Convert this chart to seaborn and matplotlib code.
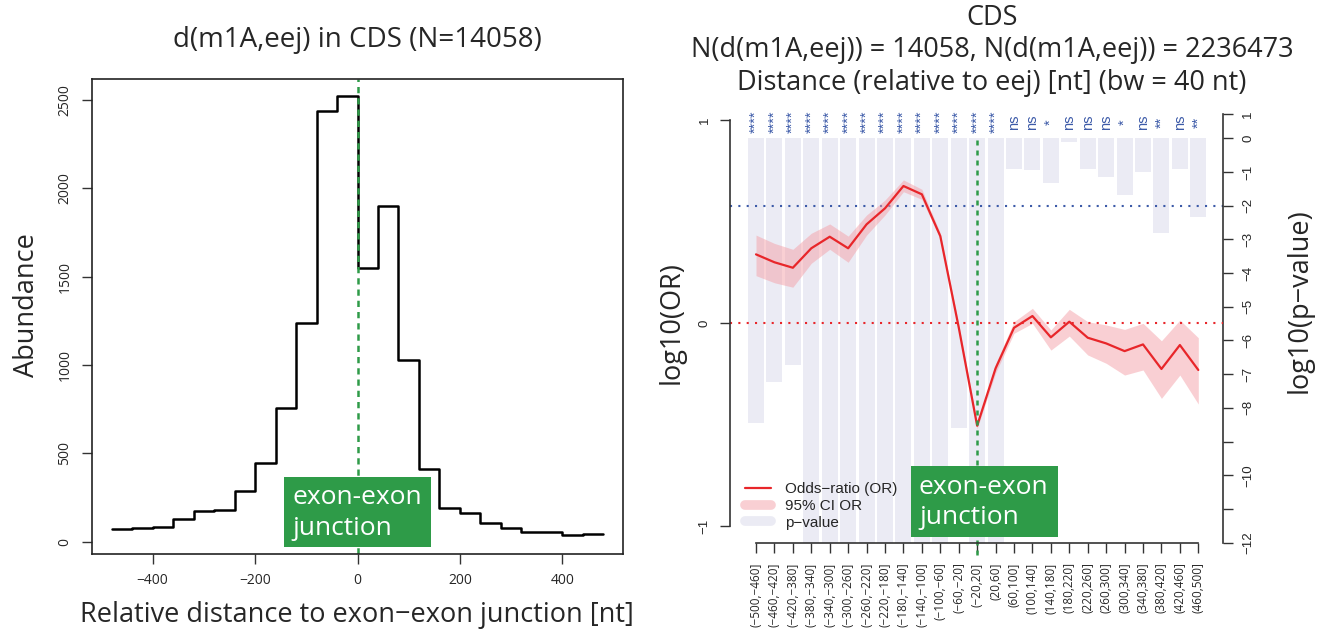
import numpy as np
import pandas as pd
import matplotlib
matplotlib.use("Agg")
import matplotlib.pyplot as plt
from matplotlib.lines import Line2D
from matplotlib.patches import Rectangle
import seaborn as sns

# left panel: m1A distances to the nearest exon-exon junction, 40 nt bins
hist_edges = list(range(-480, 481, 40))
hist_counts = [72, 76, 85, 127, 172, 178, 285, 444, 759, 1236, 2437, 2520,
               1551, 1898, 1028, 411, 191, 161, 104, 79, 57, 53, 38, 44]

# right panel: enrichment per bin
bin_labels = ["(\u2212500,\u2212460]", "(\u2212460,\u2212420]", "(\u2212420,\u2212380]",
              "(\u2212380,\u2212340]", "(\u2212340,\u2212300]", "(\u2212300,\u2212260]",
              "(\u2212260,\u2212220]", "(\u2212220,\u2212180]", "(\u2212180,\u2212140]",
              "(\u2212140,\u2212100]", "(\u2212100,\u221260]", "(\u221260,\u221220]",
              "(\u221220,20]", "(20,60]", "(60,100]", "(100,140]", "(140,180]",
              "(180,220]", "(220,260]", "(260,300]", "(300,340]", "(340,380]",
              "(380,420]", "(420,460]", "(460,500]"]
log_or = [0.340, 0.301, 0.274, 0.370, 0.427, 0.370, 0.488, 0.567, 0.677, 0.636,
          0.430, -0.020, -0.505, -0.222, -0.022, 0.036, -0.069, 0.008, -0.071,
          -0.099, -0.137, -0.104, -0.225, -0.107, -0.230]
or_low = [0.235, 0.200, 0.178, 0.296, 0.365, 0.301, 0.435, 0.534, 0.649, 0.611,
          0.415, -0.035, -0.520, -0.245, -0.049, 0.000, -0.132, -0.063, -0.156,
          -0.197, -0.255, -0.230, -0.370, -0.255, -0.398]
or_high = [0.435, 0.394, 0.365, 0.444, 0.490, 0.430, 0.534, 0.608, 0.707, 0.661,
           0.445, -0.005, -0.490, -0.200, 0.008, 0.074, -0.033, 0.069, 0.008,
           -0.008, -0.030, 0.000, -0.086, 0.016, -0.071]
# log10(p); bins far below the axis are clipped at the bottom
log_p = [-8.44, -7.22, -6.72, -20, -20, -20, -20, -20, -20, -20, -20, -8.59,
         -20, -20, -0.91, -0.94, -1.32, -0.10, -0.91, -1.14, -1.68, -0.99,
         -2.80, -0.91, -2.33]
sig_labels = ["****"] * 14 + ["ns", "ns", "*", "ns", "ns", "ns", "*", "ns",
                              "**", "ns", "**"]

p_ticks = [0.72, 0, -1, -2, -3, -4, -5, -6, -7, -8, -9, -10, -11, -12]
p_tick_labels = ["1", "0", "\u22121", "\u22122", "\u22123", "\u22124", "\u22125",
                 "\u22126", "\u22127", "\u22128", "", "\u221210", "", "\u221212"]

W, H = 1325, 630
RED = "#e8262a"
PINK = "#f4a0a8"
LAVENDER = "#ebebf4"
BLUE = "#3c5aa8"
GREEN = "#2e9b48"
AXCOL = "#333333"

sns.set_style("ticks")
plt.rcParams["font.family"] = ["Open Sans", "DejaVu Sans"]

fig = plt.figure(figsize=(W / 100, H / 100), dpi=100)


def box(x0, y0, x1, y1):
    # pixel box, origin top-left -> figure fraction rect
    return [x0 / W, 1 - y1 / H, (x1 - x0) / W, (y1 - y0) / H]


def ftext(x, y, s, **kw):
    return fig.text(x / W, 1 - y / H, s, **kw)


# ---------------- left: histogram ----------------
ax_h = fig.add_axes(box(92, 79, 623, 554))
hist_df = pd.DataFrame({"center": [e + 20 for e in hist_edges[:-1]],
                        "count": hist_counts})
sns.histplot(data=hist_df, x="center", weights="count", bins=hist_edges,
             element="step", fill=False, color="black", linewidth=1.8, ax=ax_h)
ax_h.axvline(0, color=GREEN, ls=(0, (2.5, 2)), lw=1.8)
ax_h.set_xlim(-518.4, 518.4)
ax_h.set_ylim(-70, 2619)
ax_h.set_xticks([-400, -200, 0, 200, 400])
ax_h.set_yticks([0, 500, 1000, 1500, 2000, 2500])
ax_h.set_xlabel("")
ax_h.set_ylabel("")
ax_h.tick_params(direction="out", length=7, width=1, labelsize=10, pad=7,
                 color=AXCOL)
plt.setp(ax_h.get_yticklabels(), rotation=90, va="center")
for sp in ax_h.spines.values():
    sp.set_visible(True)
    sp.set_linewidth(1.2)
    sp.set_color("#222222")

ftext(357, 40, "d(m1A,eej) in CDS (N=14058)", ha="center", va="center", size=20)
ftext(27, 305, "Abundance", ha="center", va="center", rotation=90, size=19.5)
ftext(357, 615, "Relative distance to exon\u2212exon junction [nt]",
      ha="center", va="center", size=19.5)

# ---------------- right: odds ratio + p-values ----------------
ax_or = fig.add_axes(box(730, 100, 1223, 543))
ax_p = ax_or.twinx()
ax_or.set_zorder(ax_p.get_zorder() + 1)
ax_or.patch.set_visible(False)

positions = np.arange(len(bin_labels))

sns.barplot(x=positions, y=log_p, native_scale=True, color=LAVENDER,
            saturation=1, width=0.87, errorbar=None, linewidth=0, ax=ax_p)
ax_p.axhline(-2, color=BLUE, ls=(0, (1, 3)), lw=1.5)
for i, s in enumerate(sig_labels):
    ax_p.text(positions[i], 0.48, s, rotation=90, ha="center", va="center",
              color=BLUE, fontsize=10.5, family="Liberation Sans")

ax_or.fill_between(positions, or_low, or_high, color=PINK, alpha=0.5, lw=0)
sns.lineplot(x=positions, y=log_or, color=RED, lw=1.6, errorbar=None, ax=ax_or)
ax_or.axhline(0, color=RED, ls=(0, (1, 3)), lw=1.5)
ax_or.axvline(12, ymin=-0.027, ymax=0.9135, color=GREEN, ls=(0, (2, 2)),
              lw=1.8, clip_on=False)

ax_or.set_xlim(-1.411, 25.34)
ax_or.set_ylim(-1.083, 1.101)
ax_p.set_ylim(-12.01, 1.137)

ax_or.set_xticks(positions)
ax_or.set_xticklabels(bin_labels, rotation=90, fontsize=8.5)
ax_or.set_yticks([-1, 0, 1])
ax_or.set_yticklabels(["\u22121", "0", "1"], rotation=90, va="center",
                      family="Liberation Sans", fontsize=9.5)
ax_or.tick_params(direction="out", length=7, width=1, pad=7, color=AXCOL)
ax_or.set_xlabel("")
ax_or.set_ylabel("")

ax_p.set_yticks(p_ticks)
ax_p.set_yticklabels(p_tick_labels, rotation=90, va="center",
                     family="Liberation Sans", fontsize=9.5)
ax_p.tick_params(direction="out", length=7, width=1, pad=7, color=AXCOL)
ax_p.set_ylabel("")

for sp in ["top", "right"]:
    ax_or.spines[sp].set_visible(False)
for sp in ["top", "left", "bottom"]:
    ax_p.spines[sp].set_visible(False)
ax_or.spines["left"].set_bounds(-1, 1)
ax_or.spines["bottom"].set_bounds(0, len(bin_labels) - 1)
ax_p.spines["right"].set_bounds(-12, 0.72)
ax_p.spines["right"].set_visible(True)
for sp in [ax_or.spines["left"], ax_or.spines["bottom"], ax_p.spines["right"]]:
    sp.set_linewidth(1.2)
    sp.set_color(AXCOL)

handles = [Line2D([], [], color=RED, lw=1.6),
           Line2D([], [], color=PINK, alpha=0.5, lw=7, solid_capstyle="round"),
           Line2D([], [], color=LAVENDER, lw=7, solid_capstyle="round")]
ax_or.legend(handles, ["Odds\u2212ratio (OR)", "95% CI OR", "p\u2212value"],
             loc="center left", bbox_to_anchor=(745 / W, 1 - 506 / H),
             bbox_transform=fig.transFigure, frameon=False,
             prop={"family": "Liberation Sans", "size": 11},
             handlelength=1.7, handletextpad=0.9, labelspacing=0.18,
             borderpad=0, borderaxespad=0)

ftext(992, 50.5, "CDS\nN(d(m1A,eej)) = 14058, N(d(m1A,eej)) = 2236473\n"
      "Distance (relative to eej) [nt] (bw = 40 nt)",
      ha="center", va="center", size=19.5, linespacing=1.22)
ftext(672, 323, "log10(OR)", ha="center", va="center", rotation=90, size=19.5)
ftext(1300, 301, "log10(p\u2212value)", ha="center", va="center", rotation=90,
      size=19.5)

# green "exon-exon junction" labels
for x0, y0, x1, y1 in [(284, 477, 431, 547), (911, 466, 1058, 537)]:
    fig.patches.append(Rectangle((x0 / W, 1 - y1 / H), (x1 - x0) / W, (y1 - y0) / H,
                                 transform=fig.transFigure, facecolor=GREEN,
                                 edgecolor="none", zorder=5))
    ftext(x0 + 8, (y0 + y1) / 2 + 1, "exon-exon\njunction", ha="left", va="center",
          color="white", size=19, linespacing=1.3, zorder=6)

fig.savefig("out.png", dpi=100)
